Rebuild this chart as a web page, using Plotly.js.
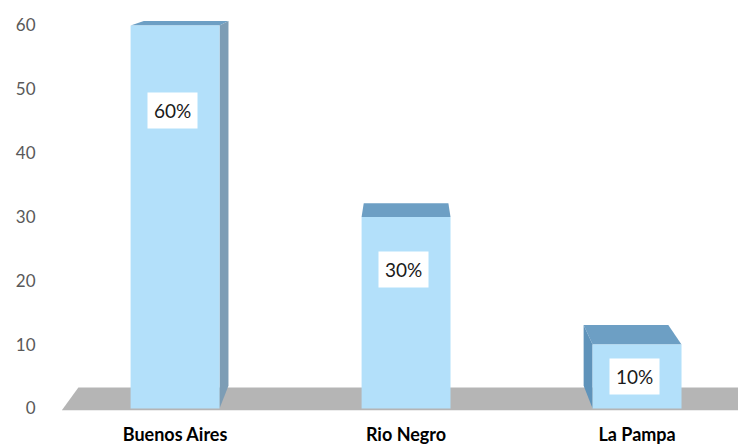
<!DOCTYPE html>
<html>
<head>
<meta charset="utf-8">
<script src="https://cdn.plot.ly/plotly-3.0.1.min.js"></script>
<style>html,body{margin:0;padding:0;background:#fff;}#chart{width:738px;height:444px;}</style>
</head>
<body>
<div id="chart"></div>
<script>
// ---- data ----
const categories = ['Buenos Aires', 'Rio Negro', 'La Pampa'];
const values = [60, 30, 10];
const valueLabels = ['60%', '30%', '10%'];
const yTicks = [0, 10, 20, 30, 40, 50, 60];

// ---- style / geometry ----
const BAR_W = 0.385;
const VP = {x: 1, y: 74.3};   // vanishing point (data coords) for the pseudo-3D faces
const K = 0.048;              // depth factor
const frontColor = '#b3e0fa';
const topColor = '#6d9fc4';
const sideColorRight = '#7d9db5';
const sideColorLeft = '#5f93ba';

function back(p) { return {x: p.x + K * (VP.x - p.x), y: p.y + K * (VP.y - p.y)}; }
function poly(pts) { return 'M' + pts.map(p => p.x + ',' + p.y).join(' L') + ' Z'; }

const shapes = [];
// floor
const fl = {x: -0.49, y: -0.3}, fr = {x: 2.8, y: -0.3};
shapes.push({type: 'path', xref: 'x', yref: 'y', layer: 'below', line: {width: 0},
  fillcolor: '#b5b5b5', path: poly([fl, fr, back(fr), back(fl)])});

values.forEach((v, i) => {
  const xl = i - BAR_W / 2, xr = i + BAR_W / 2;
  const tl = {x: xl, y: v}, tr = {x: xr, y: v}, bl = {x: xl, y: 0}, br = {x: xr, y: 0};
  // top face
  shapes.push({type: 'path', xref: 'x', yref: 'y', layer: 'below', line: {width: 0},
    fillcolor: topColor, path: poly([tl, tr, back(tr), back(tl)])});
  if (VP.x > xr) {
    shapes.push({type: 'path', xref: 'x', yref: 'y', layer: 'below', line: {width: 0},
      fillcolor: sideColorRight, path: poly([br, tr, back(tr), back(br)])});
  }
  if (VP.x < xl) {
    shapes.push({type: 'path', xref: 'x', yref: 'y', layer: 'below', line: {width: 0},
      fillcolor: sideColorLeft, path: poly([bl, tl, back(tl), back(bl)])});
  }
});

const annotations = values.map((v, i) => ({
  x: i, y: v * 0.834 - 3.3, xref: 'x', yref: 'y', text: valueLabels[i], showarrow: false,
  xshift: -3,
  bgcolor: '#ffffff', borderpad: 6,
  font: {family: 'Lato, "Open Sans", sans-serif', size: 19, color: '#1a1a1a'}
}));

const trace = {
  type: 'bar', x: categories, y: values, width: BAR_W,
  marker: {color: frontColor, line: {width: 0}},
  hoverinfo: 'x+y'
};

const layout = {
  width: 738, height: 444,
  margin: {l: 45, r: 0, t: 19, b: 33.45, pad: 0},
  paper_bgcolor: '#ffffff', plot_bgcolor: 'rgba(0,0,0,0)',
  showlegend: false,
  xaxis: {
    type: 'category', range: [-0.563, 2.437], showgrid: false, zeroline: false, showline: false,
    ticks: 'outside', ticklen: 7, tickcolor: 'rgba(0,0,0,0)', automargin: false,
    tickfont: {family: 'Lato, "Open Sans", sans-serif', size: 18, color: '#000000', weight: 'bold'}
  },
  yaxis: {
    range: [-0.4, 61], tickvals: yTicks, ticktext: yTicks.map(String),
    showgrid: false, zeroline: false, showline: false,
    ticks: 'outside', ticklen: 5, tickcolor: 'rgba(0,0,0,0)', automargin: false,
    tickfont: {family: 'Lato, "Open Sans", sans-serif', size: 17, color: '#595959'}
  },
  shapes: shapes,
  annotations: annotations
};

Plotly.newPlot('chart', [trace], layout, {staticPlot: true, displayModeBar: false});
</script>
</body>
</html>
